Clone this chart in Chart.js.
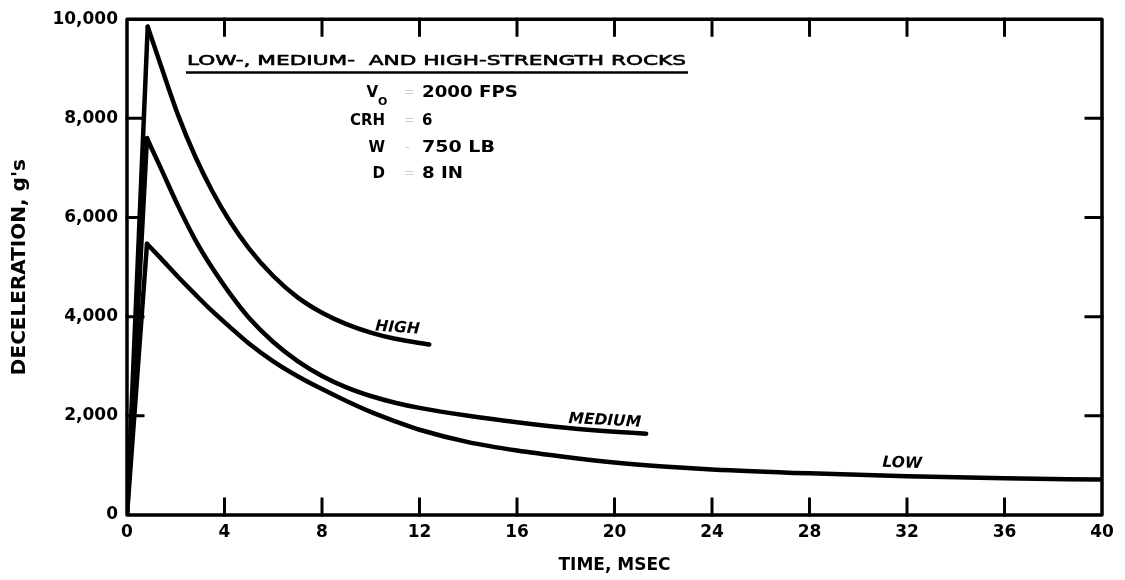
<!DOCTYPE html>
<html>
<head>
<meta charset="utf-8">
<script src="https://cdn.jsdelivr.net/npm/chart.js@4.4.1/dist/chart.umd.min.js"></script>
<style>
  html, body { margin: 0; padding: 0; background: #fff; }
</style>
</head>
<body>
<canvas id="chart" width="1125" height="580"></canvas>
<script>
// Values (time in msec, deceleration in g's)
const highTime = [0, 0.85, 1.4, 2.1, 2.8, 3.5, 4.2, 5.0, 6.0, 7.0, 8.0, 9.0, 10.0, 11.0, 12.4]
const highDecel = [0, 9850, 9050, 8060, 7230, 6530, 5940, 5380, 4820, 4390, 4080, 3850, 3680, 3555, 3440]

const medTime = [0, 0.82, 1.4, 2.1, 2.8, 3.5, 4.2, 5.0, 6.0, 7.0, 8.0, 9.0, 10.0, 11.0, 12.0, 14.0, 16.0, 18.0, 20.0, 21.3]
const medDecel = [0, 7600, 6980, 6230, 5550, 4980, 4480, 3980, 3490, 3105, 2805, 2575, 2400, 2265, 2160, 2000, 1870, 1760, 1680, 1640]

const lowTime = [0, 0.82, 1.4, 2.1, 2.8, 3.5, 4.2, 5.0, 6.0, 7.0, 8.0, 9.0, 10.0, 11.0, 12.0, 14.0, 16.0, 18.0, 20.0, 22.0, 24.0, 28.0, 32.0, 36.0, 39.9]
const lowDecel = [0, 5470, 5170, 4800, 4450, 4110, 3800, 3460, 3100, 2800, 2540, 2300, 2080, 1890, 1720, 1470, 1300, 1170, 1060, 980, 920, 840, 780, 740, 715]

const xTicks = [0, 4, 8, 12, 16, 20, 24, 28, 32, 36, 40]
const yTicks = [0, 2000, 4000, 6000, 8000, 10000]

// curve labels: [text, time, decel, rotation deg]
const curveLabels = [
  ['HIGH', 11.1, 3770, 4],
  ['MEDIUM', 19.6, 1900, 3],
  ['LOW', 31.8, 1040, 2]
]

const FONT = 'DejaVu Sans'
const toXY = (ts, vs) => ts.map((t, i) => ({ x: t, y: vs[i] }))

function curve(time, decel) {
  // straight rise to the peak, smooth decay after it
  return [
    { data: toXY(time.slice(0, 2), decel.slice(0, 2)), tension: 0 },
    { data: toXY(time.slice(1), decel.slice(1)), cubicInterpolationMode: 'monotone' }
  ]
}

const datasets = [
  ...curve(highTime, highDecel),
  ...curve(medTime, medDecel),
  ...curve(lowTime, lowDecel)
].map(d => Object.assign({
  borderColor: '#000',
  borderWidth: 4.5,
  pointRadius: 0,
  fill: false,
  borderCapStyle: 'round',
  borderJoinStyle: 'round'
}, d))

function stretchText(ctx, text, x, y, width, stroke) {
  const w = ctx.measureText(text).width
  ctx.save()
  ctx.translate(x, y)
  ctx.scale(width / w, 1)
  ctx.fillText(text, 0, 0)
  if (stroke) {
    ctx.lineWidth = stroke
    ctx.strokeText(text, 0, 0)
  }
  ctx.restore()
}

const frame = {
  id: 'frame',
  afterDraw(chart) {
    const ctx = chart.ctx
    const { left, right, top, bottom } = chart.chartArea
    const xs = chart.scales.x
    const ys = chart.scales.y
    const tick = 16
    ctx.save()
    ctx.strokeStyle = '#000'
    ctx.lineCap = 'square'

    // inward ticks on all four sides
    ctx.lineWidth = 3
    ctx.beginPath()
    xTicks.slice(1, -1).forEach(v => {
      const px = xs.getPixelForValue(v)
      ctx.moveTo(px, bottom); ctx.lineTo(px, bottom - tick)
      ctx.moveTo(px, top); ctx.lineTo(px, top + tick)
    })
    yTicks.slice(1, -1).forEach(v => {
      const py = ys.getPixelForValue(v)
      ctx.moveTo(left, py); ctx.lineTo(left + tick, py)
      ctx.moveTo(right, py); ctx.lineTo(right - tick, py)
    })
    ctx.stroke()

    // frame
    ctx.lineWidth = 3.5
    ctx.lineJoin = 'round'
    ctx.strokeRect(left, top, right - left, bottom - top)

    // curve names
    ctx.fillStyle = '#000'
    ctx.font = `italic bold 15.5px "${FONT}"`
    ctx.textAlign = 'center'
    ctx.textBaseline = 'middle'
    curveLabels.forEach(([txt, t, v, rot]) => {
      ctx.save()
      ctx.translate(xs.getPixelForValue(t), ys.getPixelForValue(v))
      ctx.rotate(rot * Math.PI / 180)
      ctx.fillText(txt, 0, 0)
      ctx.restore()
    })

    // annotation block
    ctx.textAlign = 'left'
    ctx.textBaseline = 'alphabetic'
    ctx.font = `14px "${FONT}"`
    stretchText(ctx, 'LOW-, MEDIUM-  AND HIGH-STRENGTH ROCKS', 187, 65, 499, 0.6)
    ctx.lineWidth = 2.5
    ctx.lineCap = 'butt'
    ctx.beginPath()
    ctx.moveTo(186, 72.5); ctx.lineTo(688, 72.5)
    ctx.stroke()

    ctx.font = `bold 15px "${FONT}"`
    ctx.textAlign = 'right'
    ctx.fillText('V', 378, 97)
    ctx.fillText('CRH', 385, 125)
    ctx.fillText('W', 385, 152)
    ctx.fillText('D', 385, 178)
    ctx.font = `bold 11px "${FONT}"`
    ctx.textAlign = 'left'
    ctx.fillText('O', 378, 105)

    ctx.font = `bold 15px "${FONT}"`
    stretchText(ctx, '2000 FPS', 422, 97, 96)
    ctx.fillText('6', 422, 125)
    stretchText(ctx, '750 LB', 422, 152, 73)
    stretchText(ctx, '8 IN', 422, 178, 41)

    ctx.fillStyle = '#cfcfcf'
    ctx.font = `13px "${FONT}"`
    ctx.fillText('=', 404, 96)
    ctx.fillText('=', 404, 124)
    ctx.fillText('-', 405, 151)
    ctx.fillText('=', 404, 177)
    ctx.restore()
  }
}

new Chart(document.getElementById('chart'), {
  type: 'line',
  data: { datasets },
  options: {
    responsive: false,
    animation: false,
    layout: { padding: { left: 8, right: 23, top: 16, bottom: 0 } },
    plugins: { legend: { display: false }, tooltip: { enabled: false } },
    scales: {
      x: {
        type: 'linear',
        min: 0,
        max: 40,
        afterBuildTicks: s => { s.ticks = xTicks.map(v => ({ value: v })) },
        afterFit: s => { s.height = 65 },
        grid: { display: false, drawTicks: false },
        border: { display: false },
        ticks: {
          color: '#000',
          padding: 7,
          font: { family: FONT, size: 17, weight: 'bold' }
        },
        title: {
          display: true,
          text: 'TIME, MSEC',
          color: '#000',
          padding: { top: 4, bottom: 4 },
          font: { family: FONT, size: 17, weight: 'bold' }
        }
      },
      y: {
        min: 0,
        max: 10000,
        afterBuildTicks: s => { s.ticks = yTicks.map(v => ({ value: v })) },
        afterFit: s => { s.width = 119 },
        grid: { display: false, drawTicks: false },
        border: { display: false },
        ticks: {
          color: '#000',
          padding: 9,
          font: { family: FONT, size: 17, weight: 'bold' },
          callback: v => v.toLocaleString('en-US')
        },
        title: {
          display: true,
          text: "DECELERATION, g's",
          color: '#000',
          padding: 0,
          font: { family: FONT, size: 20, weight: 'bold' }
        }
      }
    }
  },
  plugins: [frame]
})
</script>
</body>
</html>
